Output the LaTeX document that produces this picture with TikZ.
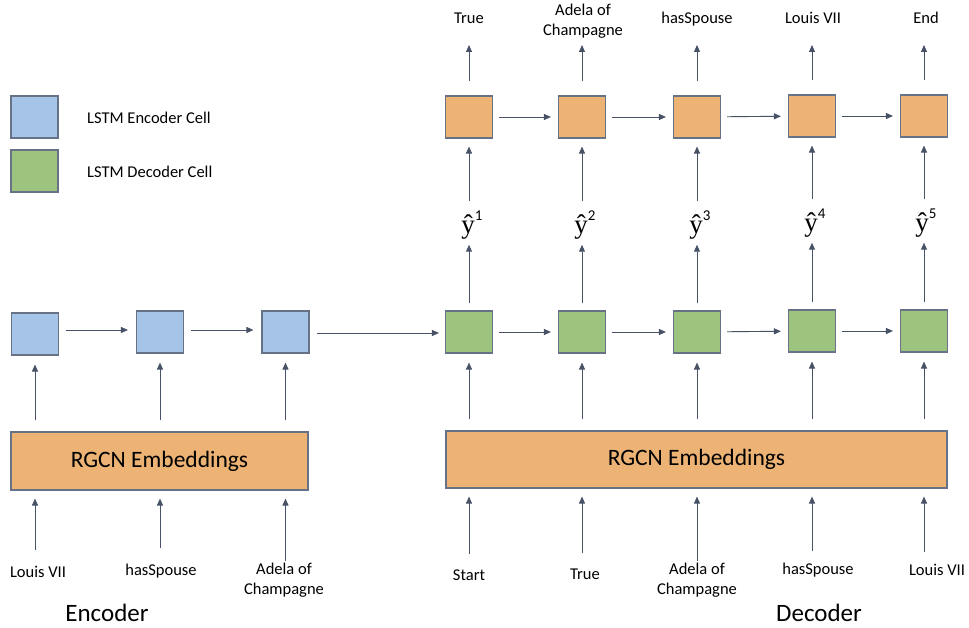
\documentclass[tikz,border=0pt]{standalone}
\usepackage{fontspec}
\setmainfont{Carlito}
\newfontfamily\yfont{Liberation Serif}
\usetikzlibrary{arrows.meta}
\definecolor{encblue}{RGB}{166,196,231}
\definecolor{decgreen}{RGB}{157,196,126}
\definecolor{outorange}{RGB}{236,179,117}
\definecolor{cellborder}{RGB}{104,114,134}
\definecolor{arrowgrey}{RGB}{72,82,102}
\newcommand{\yhatlbl}[1]{{\yfont ŷ}\raisebox{0.5em}{\fontsize{15}{15}\selectfont #1}}
\tikzset{
  cell/.style={draw=cellborder, line width=1.1pt, minimum width=47pt, minimum height=42pt, inner sep=0pt},
  enccell/.style={cell, fill=encblue},
  deccell/.style={cell, fill=decgreen},
  outcell/.style={cell, fill=outorange},
  embed/.style={draw=cellborder, line width=1.1pt, fill=outorange, inner sep=0pt, font=\fontsize{23.5}{27}\selectfont},
  lbl/.style={font=\fontsize{16.5}{20}\selectfont, align=center, inner sep=0pt},
  yhat/.style={font=\fontsize{27}{30}\selectfont, inner sep=0pt},
  title/.style={font=\fontsize{25}{29}\selectfont, inner sep=0pt},
  flow/.style={draw=arrowgrey, line width=0.9pt, -{Triangle[length=7pt,width=6pt]}}
}
\begin{document}
\begin{tikzpicture}[x=1pt,y=-1pt]
    \useasboundingbox (0,0) rectangle (969,628);

    % legend
    \node[enccell] (legenc) at (34.5,117) {};
    \node[lbl, anchor=west] (legenctxt) at (87,118) {LSTM Encoder Cell};
    \node[deccell] (legdec) at (34.5,171) {};
    \node[lbl, anchor=west] (legdectxt) at (87,172) {LSTM Decoder Cell};

    % encoder cells
    \node[enccell] (e1) at (35,334) {};
    \node[enccell] (e2) at (160,332) {};
    \node[enccell] (e3) at (285.5,332) {};

    % decoder cells
    \node[deccell] (d1) at (469,332) {};
    \node[deccell] (d2) at (582,332) {};
    \node[deccell] (d3) at (697,332) {};
    \node[deccell] (d4) at (812,331) {};
    \node[deccell] (d5) at (924,331) {};

    % output cells
    \node[outcell] (o1) at (469,117) {};
    \node[outcell] (o2) at (582,117) {};
    \node[outcell] (o3) at (697,117) {};
    \node[outcell] (o4) at (812,116) {};
    \node[outcell] (o5) at (924,116) {};

    % predictions
    \node[yhat] (y1) at (472,225) {\yhatlbl{1}};
    \node[yhat] (y2) at (585,225) {\yhatlbl{2}};
    \node[yhat] (y3) at (700,225) {\yhatlbl{3}};
    \node[yhat] (y4) at (815,223) {\yhatlbl{4}};
    \node[yhat] (y5) at (926,223) {\yhatlbl{5}};

    % outputs
    \node[lbl] (t1) at (469,18) {True};
    \node[lbl] (t2) at (583,21) {Adela of\\Champagne};
    \node[lbl] (t3) at (697,19) {hasSpouse};
    \node[lbl] (t4) at (813,18) {Louis VII};
    \node[lbl] (t5) at (926,18) {End};

    % embeddings
    \node[embed, minimum width=297pt, minimum height=58pt] (encemb) at (159.5,461) {RGCN Embeddings};
    \node[embed, minimum width=501pt, minimum height=57pt] (decemb) at (696.5,459.5) {RGCN Embeddings};

    % inputs
    \node[lbl] (i1) at (38,572) {Louis VII};
    \node[lbl] (i2) at (161,571) {hasSpouse};
    \node[lbl] (i3) at (284,580) {Adela of\\Champagne};
    \node[lbl] (i4) at (469,575) {Start};
    \node[lbl] (i5) at (585,574) {True};
    \node[lbl] (i6) at (697,580) {Adela of\\Champagne};
    \node[lbl] (i7) at (818,570) {hasSpouse};
    \node[lbl] (i8) at (937,570) {Louis VII};

    \node[title] (enc) at (107,613) {Encoder};
    \node[title] (dec) at (819,613) {Decoder};

    % recurrent arrows
    \draw[flow, shorten <=7pt, shorten >=8pt] (e1.east |- 0,330) -- (e2.west |- 0,330);
    \draw[flow, shorten <=7pt, shorten >=8pt] (e2.east |- 0,330) -- (e3.west |- 0,330);
    \draw[flow, shorten <=7pt, shorten >=6pt] (e3.east |- 0,333) -- (d1.west |- 0,333);
    \draw[flow, shorten <=6pt, shorten >=7pt] (d1) -- (d2);
    \draw[flow, shorten <=6pt, shorten >=7pt] (d2) -- (d3);
    \draw[flow, shorten <=6pt, shorten >=7pt] (d3) -- (d4);
    \draw[flow, shorten <=6pt, shorten >=7pt] (d4) -- (d5);
    \draw[flow, shorten <=6pt, shorten >=7pt] (o1) -- (o2);
    \draw[flow, shorten <=6pt, shorten >=7pt] (o2) -- (o3);
    \draw[flow, shorten <=6pt, shorten >=7pt] (o3) -- (o4);
    \draw[flow, shorten <=6pt, shorten >=7pt] (o4) -- (o5);

    % embeddings to cells
    \draw[flow, shorten <=11pt, shorten >=9pt] (e1 |- encemb.north) -- (e1.south);
    \draw[flow, shorten <=11pt, shorten >=9pt] (e2 |- encemb.north) -- (e2.south);
    \draw[flow, shorten <=11pt, shorten >=9pt] (e3 |- encemb.north) -- (e3.south);
    \draw[flow, shorten <=11pt, shorten >=9pt] (d1 |- decemb.north) -- (d1.south);
    \draw[flow, shorten <=11pt, shorten >=9pt] (d2 |- decemb.north) -- (d2.south);
    \draw[flow, shorten <=11pt, shorten >=9pt] (d3 |- decemb.north) -- (d3.south);
    \draw[flow, shorten <=11pt, shorten >=9pt] (d4 |- decemb.north) -- (d4.south);
    \draw[flow, shorten <=11pt, shorten >=9pt] (d5 |- decemb.north) -- (d5.south);

    % cells to predictions to outputs
    \draw[flow, shorten <=7pt, shorten >=5pt] (d1.north) -- (d1 |- y1.south);
    \draw[flow, shorten <=7pt, shorten >=5pt] (d2.north) -- (d2 |- y2.south);
    \draw[flow, shorten <=7pt, shorten >=5pt] (d3.north) -- (d3 |- y3.south);
    \draw[flow, shorten <=7pt, shorten >=5pt] (d4.north) -- (d4 |- y4.south);
    \draw[flow, shorten <=7pt, shorten >=5pt] (d5.north) -- (d5 |- y5.south);
    \draw[flow, shorten <=9pt, shorten >=8pt] (o1 |- y1.north) -- (o1.south);
    \draw[flow, shorten <=9pt, shorten >=8pt] (o2 |- y2.north) -- (o2.south);
    \draw[flow, shorten <=9pt, shorten >=8pt] (o3 |- y3.north) -- (o3.south);
    \draw[flow, shorten <=9pt, shorten >=8pt] (o4 |- y4.north) -- (o4.south);
    \draw[flow, shorten <=9pt, shorten >=8pt] (o5 |- y5.north) -- (o5.south);
    \draw[flow, shorten <=14pt, shorten >=8pt] (o1.north) -- (o1 |- 0,37);
    \draw[flow, shorten <=14pt, shorten >=0pt] (o2.north) -- (o2 |- 0,45);
    \draw[flow, shorten <=14pt, shorten >=8pt] (o3.north) -- (o3 |- 0,37);
    \draw[flow, shorten <=14pt, shorten >=8pt] (o4.north) -- (o4 |- 0,37);
    \draw[flow, shorten <=14pt, shorten >=8pt] (o5.north) -- (o5 |- 0,37);

    % inputs to embeddings
    \draw[flow, shorten <=16pt, shorten >=8pt] (e1 |- i1.north) -- (e1 |- encemb.south);
    \draw[flow, shorten <=16pt, shorten >=8pt] (e2 |- i2.north) -- (e2 |- encemb.south);
    \draw[flow, shorten <=2pt, shorten >=8pt] (e3 |- i3.north) -- (e3 |- encemb.south);
    \draw[flow, shorten <=15pt, shorten >=8pt] (d1 |- i4.north) -- (d1 |- decemb.south);
    \draw[flow, shorten <=15pt, shorten >=8pt] (d2 |- i5.north) -- (d2 |- decemb.south);
    \draw[flow, shorten <=2pt, shorten >=8pt] (d3 |- i6.north) -- (d3 |- decemb.south);
    \draw[flow, shorten <=12pt, shorten >=8pt] (d4 |- i7.north) -- (d4 |- decemb.south);
    \draw[flow, shorten <=12pt, shorten >=8pt] (d5 |- i8.north) -- (d5 |- decemb.south);
\end{tikzpicture}
\end{document}
